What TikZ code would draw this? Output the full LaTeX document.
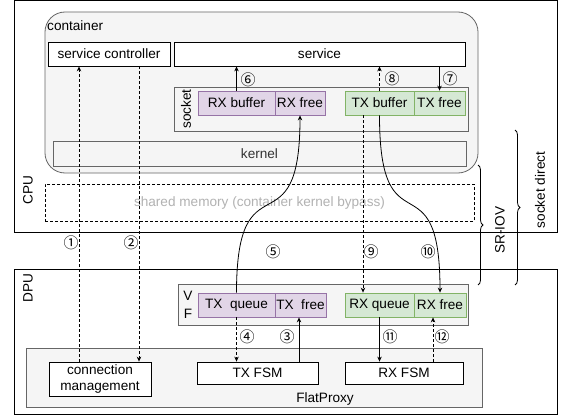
\documentclass[tikz,border=0pt]{standalone}
\usepackage{fontspec}
\setmainfont{Liberation Sans}
\newfontfamily\circfont{Noto Sans CJK SC}
\usetikzlibrary{arrows.meta, decorations.pathreplacing}
\definecolor{rxfill}{HTML}{E1D5E7}
\definecolor{rxline}{HTML}{9673A6}
\definecolor{txfill}{HTML}{D5E8D4}
\definecolor{txline}{HTML}{82B366}
\definecolor{grfill}{HTML}{F5F5F5}
\definecolor{grline}{HTML}{666666}

\tikzset{
  blk/.style={draw=black, fill=white, line width=0.8pt, inner sep=0pt},
  grybox/.style={draw=grline, fill=grfill, line width=0.8pt, inner sep=0pt},
  rxcell/.style={draw=rxline, fill=rxfill, line width=0.8pt, inner sep=0pt, minimum height=24pt},
  txcell/.style={draw=txline, fill=txfill, line width=0.8pt, inner sep=0pt, minimum height=24pt},
  num/.style={font=\circfont\fontsize{15}{15}\selectfont, inner sep=0pt},
  flow/.style={-{Stealth[length=5pt,width=4.5pt]}, line width=0.8pt},
  dflow/.style={flow, dash pattern=on 3pt off 2pt},
  sidelbl/.style={rotate=90, inner sep=0pt},
  brc/.style={decorate, decoration={brace, amplitude=5pt}, line width=0.8pt},
}

\begin{document}
\begin{tikzpicture}[x=1pt, y=-1pt, font=\fontsize{13.6}{16}\selectfont]
	\useasboundingbox (0,0) rectangle (562,417);
	% CPU side
	\path (285.5,116) node[blk, minimum width=543pt, minimum height=232pt] (cpu) {}
		(28,190) node[sidelbl] (cpulbl) {CPU}
		(261.5,92.5) node[grybox, rounded corners=20pt, minimum width=433pt, minimum height=161pt] (ctr) {}
		(47,26) node[anchor=west, inner sep=0pt] (ctrlbl) {container}
		(109,54) node[blk, minimum width=122pt, minimum height=24pt] (sctrl) {service controller}
		(319.5,54) node[blk, minimum width=291pt, minimum height=24pt] (service) {service}
		(321,109) node[grybox, minimum width=294pt, minimum height=44pt] (sock) {}
		(186,109) node[sidelbl] (socklbl) {socket}
		(236.5,103) node[rxcell, minimum width=77pt] (rxbuf) {RX buffer}
		(300,103) node[rxcell, minimum width=50pt] (rxfree) {RX free}
		(379.5,103) node[txcell, minimum width=69pt] (txbuf) {TX buffer}
		(439.5,103) node[txcell, minimum width=51pt] (txfree) {TX free}
		(259.5,153.5) node[grybox, minimum width=413pt, minimum height=25pt, text=black!80] (kern) {kernel}
		(259.5,202.5) node[draw, dash pattern=on 3pt off 2pt, line width=0.8pt, minimum width=429pt, minimum height=37pt, text=black!30] (shm) {shared memory (container kernel bypass)};
	% DPU side
	\path (285.5,341.5) node[blk, minimum width=543pt, minimum height=145pt] (dpu) {}
		(28,288) node[sidelbl] (dpulbl) {DPU}
		(323,304.5) node[grybox, minimum width=290pt, minimum height=41pt] (vf) {}
		(188,305) node[align=center, inner sep=0pt] (vflbl) {V\\[2pt]F}
		(236.5,305) node[rxcell, minimum width=77pt] (txq) {TX\ \ queue}
		(300.5,305) node[rxcell, minimum width=51pt] (txfree2) {TX\ \ free}
		(379.5,305) node[txcell, minimum width=69pt] (rxq) {RX queue}
		(440,305) node[txcell, minimum width=52pt] (rxfree2) {RX free}
		(254,377.5) node[grybox, minimum width=456pt, minimum height=59pt] (fp) {}
		(325,399) node[inner sep=0pt] (fplbl) {FlatProxy}
		(100,379) node[blk, align=center, minimum width=102pt, minimum height=34pt] (conn) {connection\\management}
		(257.5,373) node[blk, minimum width=121pt, minimum height=22pt] (txfsm) {TX FSM}
		(404,373) node[blk, minimum width=118pt, minimum height=22pt] (rxfsm) {RX FSM};

	% flows
	\draw[dflow] ([xshift=-21pt]conn.north) -- ([xshift=-30pt]sctrl.south);
	\draw[dflow] ([xshift=30pt]sctrl.south) -- ([xshift=39pt]conn.north);
	\draw[flow] ([xshift=41.5pt]txfsm.north) -- ([xshift=-1.5pt]txfree2.south);
	\draw[dflow] (txq.south) -- ([xshift=-21pt]txfsm.north);
	\draw[flow] (txq.north) .. controls +(0,-140) and +(0,140) .. (rxfree.south);
	\draw[flow] (rxbuf.north) -- ([xshift=-83pt]service.south);
	\draw[flow] ([xshift=120pt]service.south) -- (txfree.north);
	\draw[dflow] (txbuf.north) -- ([xshift=60pt]service.south);
	\draw[dflow] ([xshift=-16.5pt]txbuf.south) -- ([xshift=-16.5pt]rxq.north);
	\draw[flow] (txbuf.south) .. controls +(0,140) and +(0,-140) .. (rxfree2.north);
	\draw[flow] (rxq.south) -- ([xshift=-24.5pt]rxfsm.north);
	\draw[dflow] ([xshift=29pt]rxfsm.north) -- ([xshift=-7pt]rxfree2.south);

	% step numbers
	\path (71,243) node[num] (n1) {①}
		(131,243) node[num] (n2) {②}
		(287,337) node[num] (n3) {③}
		(247,337) node[num] (n4) {④}
		(273,252) node[num] (n5) {⑤}
		(248,80) node[num] (n6) {⑥}
		(450,79) node[num] (n7) {⑦}
		(392,79) node[num] (n8) {⑧}
		(371,252) node[num] (n9) {⑨}
		(428,252) node[num] (n10) {⑩}
		(390,337) node[num] (n11) {⑪}
		(442,337) node[num] (n12) {⑫};

	% braces
	\draw[brc] (478,165) -- (478,285);
	\node[sidelbl] (sriov) at (500,230) {SR-IOV};
	\draw[brc] (515,130) -- (515,285);
	\node[sidelbl] (sdirect) at (540,190) {socket direct};
\end{tikzpicture}
\end{document}
